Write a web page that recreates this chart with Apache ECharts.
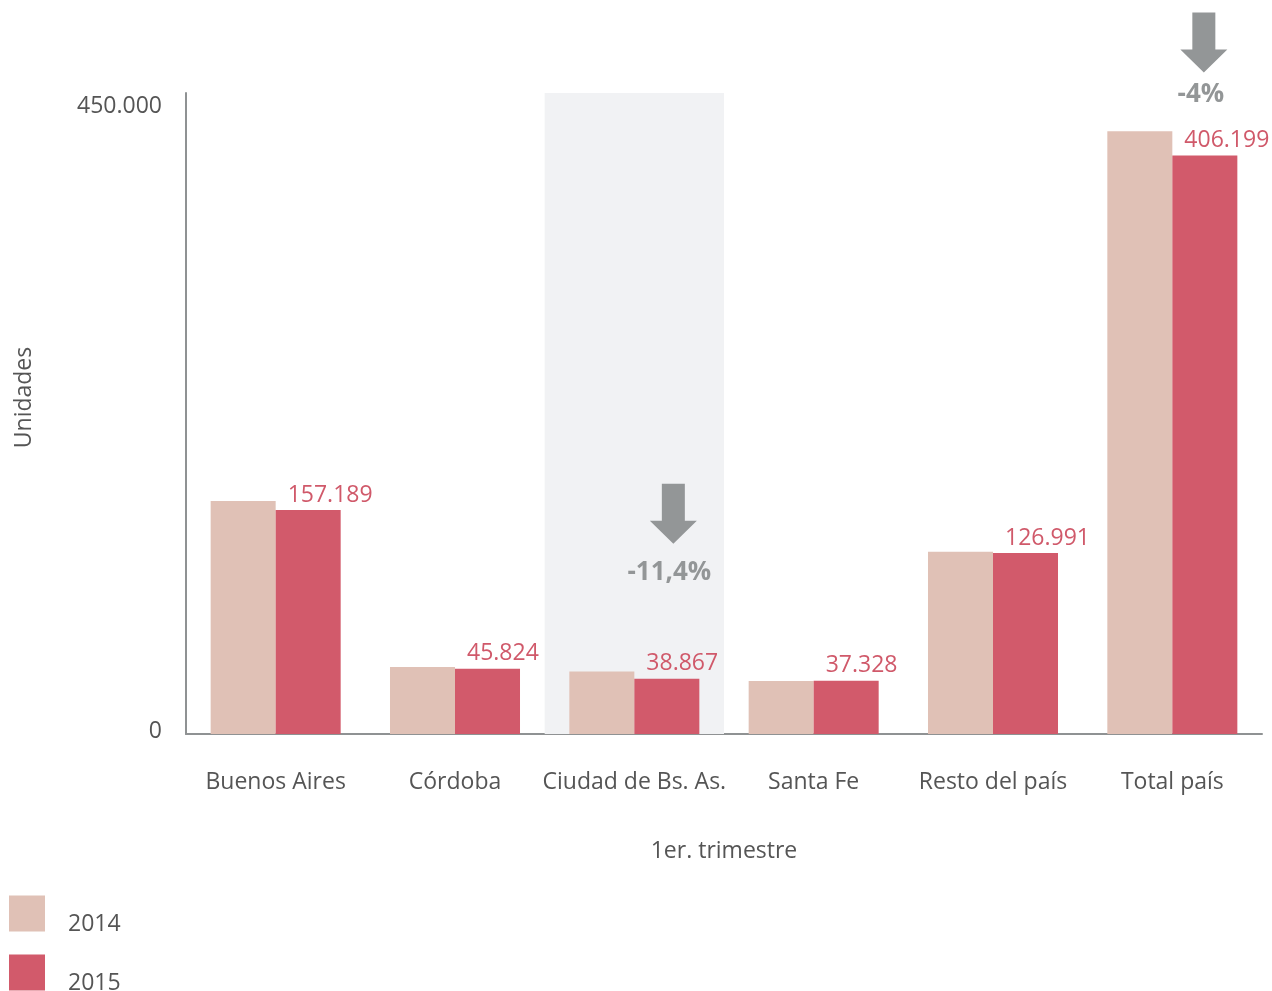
<!DOCTYPE html>
<html><head><meta charset="utf-8">
<script src="https://cdn.jsdelivr.net/npm/echarts@6/dist/echarts.min.js"></script>
<style>html,body{margin:0;padding:0;background:#fff}#c{width:1272px;height:991px}</style>
</head><body><div id="c"></div>
<script>
var categories = ['Buenos Aires', 'Córdoba', 'Ciudad de Bs. As.', 'Santa Fe', 'Resto del país', 'Total país'];
var values2014 = [163600, 47100, 43868, 37200, 128000, 423100];
var values2015 = [157189, 45824, 38867, 37328, 126991, 406199];
var highlight = [null, null, 450000, null, null, null];
var changes = [
  {cat: 'Ciudad de Bs. As.', value: 38867, text: '-11,4%'},
  {cat: 'Total país', value: 406199, text: '-4%'}
];
var yTicks = {min: 0, max: 450000};

function fmt(v) { return String(v).replace(/\B(?=(\d{3})+(?!\d))/g, '.'); }

var FONT = 'Open Sans';
var arrowPath = 'path://M12,0 L35,0 L35,37 L47,37 L23.5,60 L0,37 L12,37 Z';

var chart = echarts.init(document.getElementById('c'));
chart.setOption({
  animation: false,
  textStyle: {fontFamily: FONT},
  grid: {left: 186, right: 10, top: 93, bottom: 257},
  legend: {
    data: ['2014', '2015'], orient: 'vertical', left: 9, top: 891, height: 200, padding: 0,
    itemWidth: 36, itemHeight: 36, itemGap: 14, icon: 'rect',
    formatter: '{a|{name}}',
    textStyle: {
      fontSize: 23, color: '#555', fontFamily: FONT,
      rich: {a: {fontSize: 23, color: '#555', fontFamily: FONT, lineHeight: 14, padding: [22, 0, 0, 18]}}
    }
  },
  xAxis: [{
    type: 'category', data: categories,
    axisLine: {lineStyle: {color: '#8f9293', width: 2}},
    axisTick: {show: false},
    axisLabel: {fontSize: 23, color: '#555', margin: 37, fontFamily: FONT, interval: 0},
    name: '1er. trimestre', nameLocation: 'middle', nameGap: 106,
    nameTextStyle: {fontSize: 23, color: '#555', fontFamily: FONT}
  }, {
    type: 'category', data: categories, show: false
  }],
  yAxis: {
    type: 'value', min: yTicks.min, max: yTicks.max, interval: yTicks.max,
    axisLine: {show: true, lineStyle: {color: '#8f9293', width: 2}},
    axisTick: {show: false},
    splitLine: {show: false},
    axisLabel: {
      margin: 24, color: '#555', fontSize: 23, fontFamily: FONT,
      formatter: function (v) { return v === 0 ? '{b|0}' : '{t|' + fmt(v) + '}'; },
      rich: {
        t: {fontSize: 23, color: '#555', fontFamily: FONT, padding: [26, 0, 0, 0]},
        b: {fontSize: 23, color: '#555', fontFamily: FONT, padding: [0, 0, 6, 0]}
      }
    },
    name: 'Unidades', nameLocation: 'middle', nameGap: 150, nameRotate: 90,
    nameTextStyle: {fontSize: 23, color: '#555', fontFamily: FONT, padding: [0, 0, 0, 32]}
  },
  series: [{
    name: 'band', type: 'bar', xAxisIndex: 1, data: highlight, barWidth: '100%',
    itemStyle: {color: '#f1f2f4'}, silent: true, z: 0
  }, {
    name: '2014', type: 'bar', data: values2014, barGap: 0, barCategoryGap: '27.5%',
    itemStyle: {color: '#e0c1b6'}, z: 2
  }, {
    name: '2015', type: 'bar', data: values2015,
    itemStyle: {color: '#d25a6b'}, z: 2,
    label: {
      show: true, position: [12, -15], align: 'left', verticalAlign: 'middle',
      color: '#d0596a', fontSize: 23, fontFamily: FONT,
      formatter: function (p) { return fmt(p.value); }
    },
    markPoint: {
      silent: true,
      symbol: arrowPath, symbolSize: [47, 60], symbolKeepAspect: false,
      itemStyle: {color: '#939697'},
      label: {
        show: true, position: 'bottom', color: '#939697',
        fontSize: 26, fontWeight: 'bold', fontFamily: FONT,
        formatter: function (p) { return p.name; }
      },
      data: [
        {name: changes[0].text, coord: [changes[0].cat, changes[0].value], symbolOffset: [6.5, -165],
         label: {distance: 16, offset: [-4, 0]}},
        {name: changes[1].text, coord: [changes[1].cat, changes[1].value], symbolOffset: [-1, -113],
         label: {distance: 9, offset: [-3, 0]}}
      ]
    }
  }]
});
</script></body></html>
